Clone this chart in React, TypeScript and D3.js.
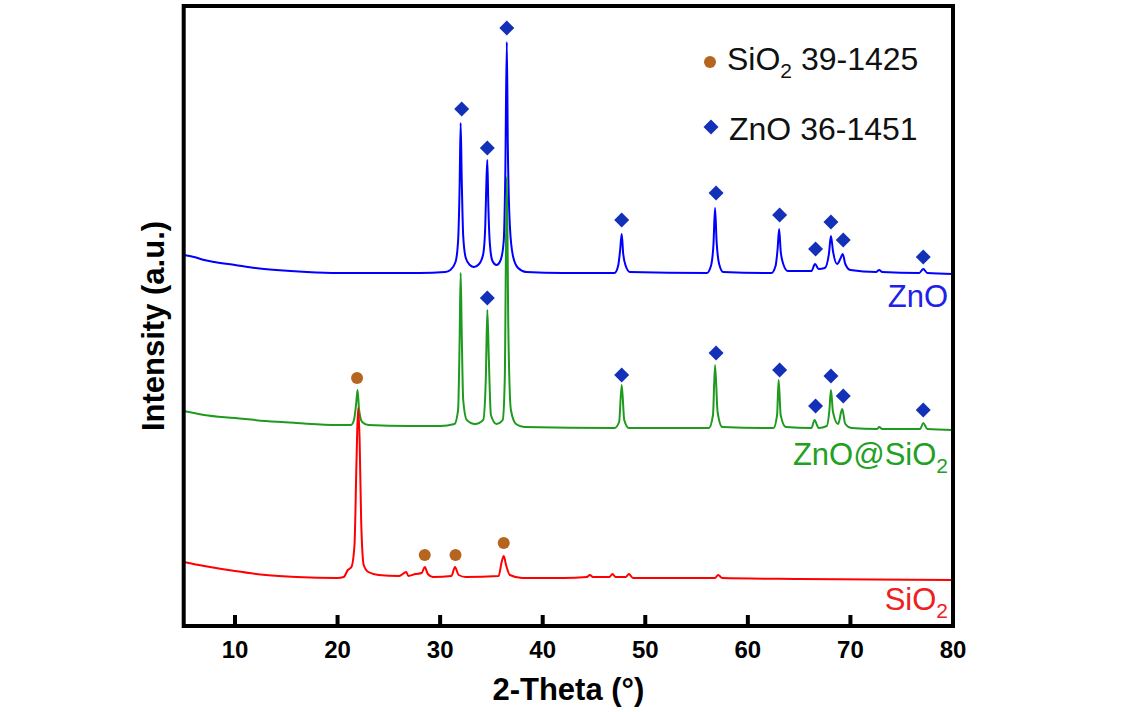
import React from "react";
import * as d3 from "d3";

// 2-Theta (deg) vs intensity (a.u., stacked offsets as in the figure)
const zno: [number, number][] = [
  [5,371],[6,369],[7,366],[8,364],[10,361],[12,358],[14,356],[17,354],[20,353],[25,353],[28,353],[30.5,354],[31.0,356],[31.5,364],[31.75,385],[31.9,440],[32.0,503],[32.1,450],[32.25,390],[32.5,368],[32.9,361],[33.3,359],[33.8,362],[34.2,372],[34.4,400],[34.5,440],[34.6,466],[34.7,420],[34.85,382],[35.1,365],[35.5,361],[35.9,366],[36.2,385],[36.35,450],[36.5,584],[36.6,480],[36.8,400],[37.1,370],[37.6,358],[38.4,354],[42,353],[47.0,353],[47.35,360],[47.55,376],[47.7,392],[47.85,372],[48.1,360],[48.5,354],[56.0,353],[56.4,360],[56.65,382],[56.8,418],[56.95,385],[57.2,362],[57.6,354],[62.3,353],[62.7,360],[62.9,377],[63.05,397],[63.2,375],[63.45,362],[63.9,355],[66.2,355],[66.55,362],[66.9,357],[67.5,358],[67.9,372],[68.1,390],[68.3,375],[68.7,362],[69.05,368],[69.25,372],[69.5,362],[70,356],[72.5,354],[72.8,356],[73.1,354],[76.7,353],[77.1,357],[77.5,353],[80,352]
];
const znoSio2: [number, number][] = [
  [5,215],[6,213],[7,211],[10,208],[13,205],[16,203],[20,201],[21.3,201],[21.6,206],[21.8,221],[21.95,236],[22.1,216],[22.4,204],[23,201],[27,200],[30,200],[31.4,202],[31.75,216],[31.9,286],[32.0,353],[32.1,296],[32.25,226],[32.6,206],[33.4,202],[34.2,206],[34.45,246],[34.6,316],[34.75,266],[34.95,211],[35.5,202],[36.1,206],[36.3,246],[36.5,449],[36.65,296],[36.9,216],[37.4,202],[38.2,199],[47.0,198],[47.45,204],[47.7,241],[47.95,206],[48.4,198],[56.2,198],[56.6,211],[56.8,261],[57.05,214],[57.5,199],[62.5,198],[62.85,211],[63.0,246],[63.2,211],[63.7,199],[66.2,198],[66.5,206],[66.9,198],[67.7,200],[67.95,216],[68.1,236],[68.3,214],[68.8,202],[69.2,217],[69.5,202],[70.1,198],[72.6,197],[72.8,199],[73.1,197],[76.8,197],[77.1,203],[77.5,197],[80,196]
];
const sio2: [number, number][] = [
  [5,64],[7,60],[10,55],[13,51],[16,49],[20,48],[20.6,49],[21.0,56],[21.35,59],[21.65,81],[21.85,166],[22.0,218],[22.15,186],[22.3,106],[22.55,61],[23,54],[24,51],[26,50],[26.7,54],[26.9,50],[27.6,52],[28.2,53],[28.5,59],[28.8,52],[29.3,49],[31.1,50],[31.45,59],[31.8,51],[32.5,49],[35.7,50],[36.0,64],[36.2,70],[36.45,60],[36.8,51],[38,48],[42,48],[44.3,49],[44.6,51],[44.9,49],[46.5,49],[46.8,52],[47.1,49],[48.1,49],[48.4,52],[48.8,48],[56.8,48],[57.1,51],[57.5,48],[65,47],[80,46]
];

// phase markers
const znoDiamondsOnZnO: [number, number][] = [[32.1,517],[34.6,478],[36.5,598],[47.7,406],[56.9,433],[63.1,411],[66.6,377],[68.1,404],[69.3,386],[77.1,369]];
const znoDiamondsOnComposite: [number, number][] = [[34.6,328],[47.7,251],[56.9,273],[63.1,256],[66.6,220],[68.1,250],[69.3,230],[77.1,216]];
const sio2Circles: [number, number][] = [[21.9,248],[28.5,71],[31.5,71],[36.2,83]];

const xTicks = [10, 20, 30, 40, 50, 60, 70, 80];

const W = 1139, H = 712;
const L = 183.7, R = 953, T = 6, B = 626;

export default function App() {
  const x = d3.scaleLinear().domain([5, 80]).range([L, R]);
  const y = d3.scaleLinear().domain([0, 620]).range([B, T]);
  const line = d3.line<[number, number]>().x(d => x(d[0])).y(d => y(d[1])).curve(d3.curveMonotoneX);
  const font = "Arial, 'Liberation Sans', sans-serif";
  const diamond = (cx: number, cy: number, r: number) => `M${cx},${cy - r}L${cx + r},${cy}L${cx},${cy + r}L${cx - r},${cy}Z`;
  const dColor = "#1230B8";
  const cColor = "#B5651D";
  return (
    <svg width={W} height={H} style={{ position: "absolute", left: 0, top: 0, background: "#fff" }} fontFamily={font}>
      <path d={line(zno) || ""} fill="none" stroke="#0000FF" strokeWidth={2} />
      <path d={line(znoSio2) || ""} fill="none" stroke="#1E9A1E" strokeWidth={2} />
      <path d={line(sio2) || ""} fill="none" stroke="#FF0000" strokeWidth={2} />
      {znoDiamondsOnZnO.concat(znoDiamondsOnComposite).map((d, i) => (
        <path key={"d" + i} d={diamond(x(d[0]), y(d[1]), 7.5)} fill={dColor} />
      ))}
      {sio2Circles.map((d, i) => (
        <circle key={"c" + i} cx={x(d[0])} cy={y(d[1])} r={6} fill={cColor} />
      ))}
      {/* frame */}
      <rect x={L} y={T} width={R - L} height={B - T} fill="none" stroke="#000" strokeWidth={4} />
      {xTicks.filter(t => t < 80).map(t => (
        <line key={t} x1={x(t)} x2={x(t)} y1={B} y2={B - 11} stroke="#000" strokeWidth={4} />
      ))}
      {xTicks.map(t => (
        <text key={"l" + t} x={x(t)} y={658} textAnchor="middle" fontSize={24} fontWeight="bold">{t}</text>
      ))}
      <text x={(L + R) / 2} y={700} textAnchor="middle" fontSize={31} fontWeight="bold">2-Theta (°)</text>
      <text transform={`translate(164,${(T + B) / 2 + 10}) rotate(-90)`} textAnchor="middle" fontSize={31} fontWeight="bold">Intensity (a.u.)</text>
      {/* legend */}
      <circle cx={710} cy={62} r={6} fill={cColor} />
      <text x={727} y={70} fontSize={32} fill="#111">SiO<tspan dy={8} fontSize={21}>2</tspan><tspan dy={-8}> 39-1425</tspan></text>
      <path d={diamond(711, 127, 7.5)} fill={dColor} />
      <text x={729} y={140} fontSize={32} fill="#111">ZnO 36-1451</text>
      {/* series labels */}
      <text x={948} y={307} textAnchor="end" fontSize={31} fill="#2020E8">ZnO</text>
      <text x={948} y={465} textAnchor="end" fontSize={31} fill="#22A022">ZnO@SiO<tspan dy={8} fontSize={21}>2</tspan></text>
      <text x={948} y={610} textAnchor="end" fontSize={31} fill="#EE2020">SiO<tspan dy={8} fontSize={21}>2</tspan></text>
    </svg>
  );
}
